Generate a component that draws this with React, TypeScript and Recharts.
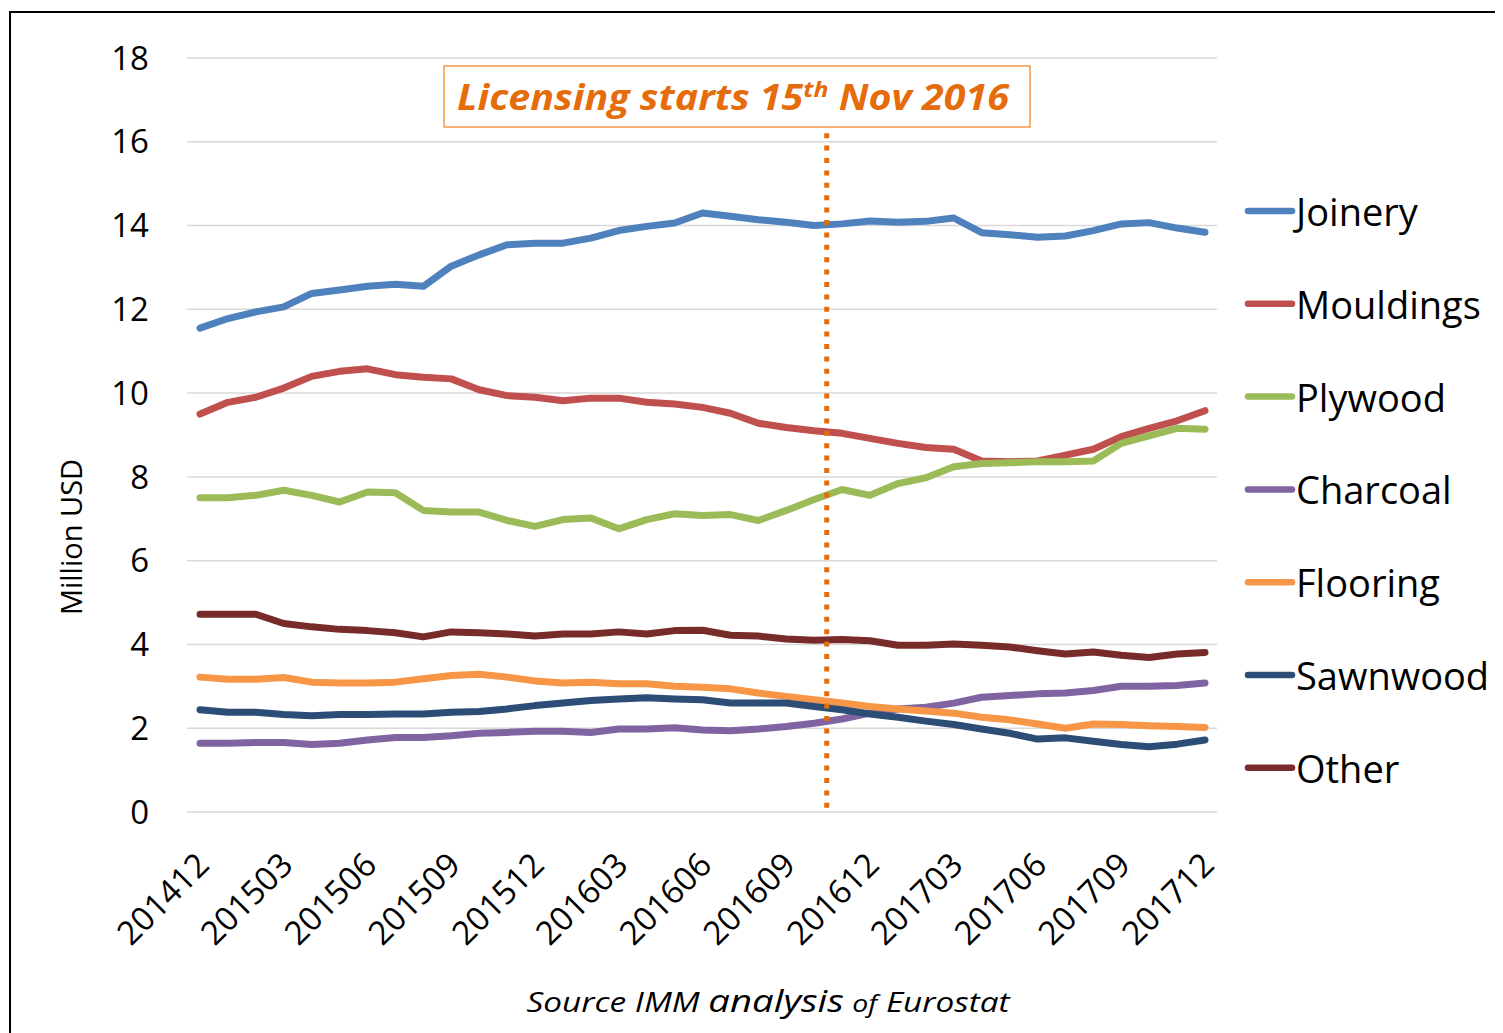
import React from 'react';
import { LineChart, Line, XAxis, YAxis, CartesianGrid, ReferenceLine } from 'recharts';

const months = [
  '201412', '201501', '201502', '201503', '201504', '201505', '201506', '201507', '201508', '201509',
  '201510', '201511', '201512', '201601', '201602', '201603', '201604', '201605', '201606', '201607',
  '201608', '201609', '201610', '201611', '201612', '201701', '201702', '201703', '201704', '201705',
  '201706', '201707', '201708', '201709', '201710', '201711', '201712',
];
const tickIdx = [0, 3, 6, 9, 12, 15, 18, 21, 24, 27, 30, 33, 36];
const yTicks = [0, 2, 4, 6, 8, 10, 12, 14, 16, 18];

const joinery = [11.55, 11.78, 11.94, 12.06, 12.38, 12.46, 12.55, 12.6, 12.55, 13.03, 13.3, 13.54, 13.58, 13.58, 13.7, 13.88, 13.98, 14.06, 14.3, 14.22, 14.14, 14.08, 14.0, 14.04, 14.11, 14.08, 14.1, 14.18, 13.83, 13.78, 13.72, 13.75, 13.88, 14.04, 14.07, 13.94, 13.84];
const mouldings = [9.5, 9.78, 9.9, 10.12, 10.4, 10.52, 10.58, 10.44, 10.38, 10.34, 10.08, 9.94, 9.9, 9.82, 9.88, 9.88, 9.78, 9.74, 9.66, 9.52, 9.28, 9.18, 9.1, 9.04, 8.92, 8.8, 8.7, 8.66, 8.38, 8.36, 8.38, 8.52, 8.66, 8.96, 9.16, 9.34, 9.58];
const plywood = [7.5, 7.5, 7.56, 7.68, 7.56, 7.4, 7.64, 7.62, 7.2, 7.16, 7.16, 6.96, 6.82, 6.98, 7.02, 6.76, 6.98, 7.12, 7.08, 7.1, 6.96, 7.2, 7.46, 7.7, 7.56, 7.84, 7.98, 8.24, 8.32, 8.34, 8.36, 8.36, 8.38, 8.8, 8.98, 9.16, 9.14];
const charcoal = [1.64, 1.64, 1.66, 1.66, 1.61, 1.64, 1.72, 1.78, 1.78, 1.82, 1.88, 1.9, 1.93, 1.93, 1.9, 1.98, 1.98, 2.01, 1.96, 1.94, 1.98, 2.04, 2.12, 2.22, 2.36, 2.46, 2.5, 2.6, 2.74, 2.78, 2.82, 2.84, 2.9, 3.0, 3.0, 3.02, 3.08];
const flooring = [3.22, 3.17, 3.17, 3.21, 3.1, 3.08, 3.08, 3.1, 3.18, 3.26, 3.29, 3.22, 3.13, 3.08, 3.1, 3.06, 3.06, 3.0, 2.98, 2.94, 2.84, 2.76, 2.68, 2.6, 2.52, 2.46, 2.41, 2.36, 2.26, 2.2, 2.1, 2.0, 2.1, 2.09, 2.06, 2.04, 2.02];
const sawnwood = [2.44, 2.38, 2.38, 2.33, 2.3, 2.33, 2.33, 2.34, 2.34, 2.38, 2.4, 2.46, 2.54, 2.6, 2.66, 2.7, 2.73, 2.7, 2.68, 2.6, 2.6, 2.6, 2.52, 2.44, 2.34, 2.26, 2.17, 2.09, 1.98, 1.88, 1.74, 1.77, 1.69, 1.61, 1.56, 1.62, 1.72];
const other = [4.72, 4.72, 4.72, 4.5, 4.42, 4.36, 4.33, 4.28, 4.18, 4.3, 4.28, 4.25, 4.2, 4.25, 4.25, 4.3, 4.25, 4.33, 4.34, 4.22, 4.2, 4.13, 4.1, 4.12, 4.09, 3.98, 3.98, 4.01, 3.98, 3.94, 3.85, 3.77, 3.82, 3.74, 3.69, 3.77, 3.81];

const series = [
  { key: 'Joinery', values: joinery, color: '#4F81BD' },
  { key: 'Mouldings', values: mouldings, color: '#C0504D' },
  { key: 'Plywood', values: plywood, color: '#9BBB59' },
  { key: 'Charcoal', values: charcoal, color: '#8064A2' },
  { key: 'Flooring', values: flooring, color: '#F79646' },
  { key: 'Sawnwood', values: sawnwood, color: '#2C4D75' },
  { key: 'Other', values: other, color: '#772C2A' },
];

// licensing start (15 Nov 2016) sits a little before the Nov 2016 point
const licenceX = 22.45;

const rows = months.map((m, i) => {
  const row: Record<string, number | string> = { idx: i, month: m };
  series.forEach((s) => { row[s.key] = s.values[i]; });
  return row;
});

const W = 1495;
const H = 1025;
const FONT = '"Open Sans", sans-serif';

function XTick(props: any) {
  const { x, y, payload } = props;
  const tx = x + 11;
  const ty = y + 47;
  return (
    <text x={tx} y={ty} transform={`rotate(-45 ${tx} ${ty})`} textAnchor="end"
      fontSize={33} fontFamily={FONT} fill="#000">
      {months[payload.value]}
    </text>
  );
}

export default function App() {
  return (
    <div style={{ position: 'relative', width: W, height: H, fontFamily: FONT }}>
      <div style={{ position: 'absolute', left: 1, top: 3, width: W - 1, height: 2, background: '#000' }} />
      <div style={{ position: 'absolute', left: 1, top: 3, width: 2, height: H - 3, background: '#000' }} />
      <LineChart width={W} height={H} data={rows} margin={{ top: 50, right: 286, bottom: 91, left: 0 }}>
        <CartesianGrid vertical={false} stroke="#D9D9D9" strokeWidth={1.5} />
        <XAxis
          dataKey="idx"
          type="number"
          domain={[0, 36]}
          ticks={tickIdx}
          interval={0}
          tick={<XTick />}
          axisLine={false}
          tickLine={false}
          height={130}
          padding={{ left: 13, right: 12 }}
        />
        <YAxis
          domain={[0, 18]}
          ticks={yTicks}
          width={179}
          axisLine={false}
          tickLine={false}
          tickMargin={32}
          tick={{ fill: '#000', fontSize: 33, fontFamily: FONT }}
        />
        {series.map((s) => (
          <Line
            key={s.key}
            dataKey={s.key}
            stroke={s.color}
            strokeWidth={7}
            strokeLinejoin="round"
            strokeLinecap="round"
            dot={false}
            activeDot={false}
            isAnimationActive={false}
          />
        ))}
        <ReferenceLine
          segment={[{ x: licenceX, y: 0.1 }, { x: licenceX, y: 16.5 }]}
          stroke="#E46C0A"
          strokeWidth={5}
          strokeDasharray="5 7.4"
        />
      </LineChart>
      <svg width={W} height={H} style={{ position: 'absolute', left: 0, top: 0, pointerEvents: 'none' }}>
        <text x={62} y={529} transform="rotate(-90 62 529)" textAnchor="middle" dominantBaseline="central"
          fontSize={29} fontFamily={FONT} fill="#000">
          Million USD
        </text>
        <rect x={436} y={58} width={586} height={61} fill="#fff" stroke="#F79646" strokeWidth={1.5} />
        <text x={449} y={102} fontSize={35} fontFamily={FONT} fontWeight="bold" fontStyle="italic"
          fill="#E46C0A" textLength={552} lengthAdjust="spacingAndGlyphs">
          Licensing starts 15<tspan dy={-13} fontSize={22}>th</tspan><tspan dy={13} fontSize={35}> Nov 2016</tspan>
        </text>
        {series.map((s, i) => {
          const cy = 203 + i * 92.8;
          return (
            <g key={s.key}>
              <line x1={1240} x2={1284} y1={cy} y2={cy} stroke={s.color} strokeWidth={6.5} strokeLinecap="round" />
              <text x={1288} y={cy} dominantBaseline="central" fontSize={38} fontFamily={FONT} fill="#000">
                {s.key}
              </text>
            </g>
          );
        })}
        <text x={760} y={1004} textAnchor="middle" fontFamily={FONT} fontStyle="italic" fill="#000"
          fontSize={27} textLength={483} lengthAdjust="spacingAndGlyphs">
          Source IMM <tspan fontSize={31}>analysis</tspan> <tspan fontSize={23}>of</tspan> Eurostat
        </text>
      </svg>
    </div>
  );
}
